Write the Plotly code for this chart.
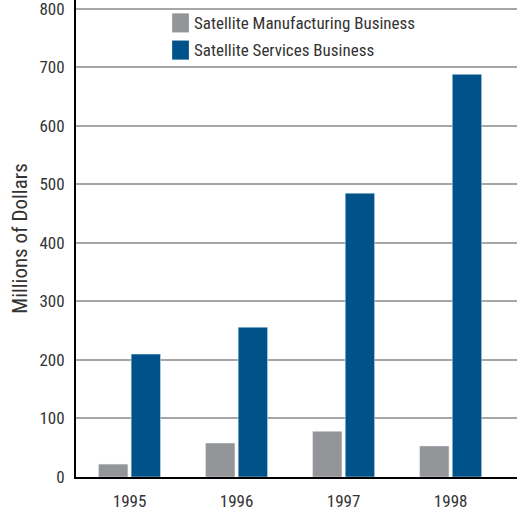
import plotly.graph_objects as go

years = ["1995", "1996", "1997", "1998"]
manufacturing = [22, 58, 78, 53]
services = [210, 256, 485, 688]
series_names = ["Satellite Manufacturing Business", "Satellite Services Business"]
y_ticks = [0, 100, 200, 300, 400, 500, 600, 700, 800]

GRAY = "#939598"
BLUE = "#00538a"
FONT = "Liberation Sans Narrow, Arial Narrow, Roboto Condensed, sans-serif"

fig = go.Figure()
fig.add_trace(go.Bar(x=years, y=manufacturing, name=series_names[0], marker_color=GRAY, showlegend=False))
fig.add_trace(go.Bar(x=years, y=services, name=series_names[1], marker_color=BLUE, showlegend=False))

# custom legend (plot area: top 0, bottom 477 px)
leg = [(series_names[0], GRAY, 0.952), (series_names[1], BLUE, 0.895)]
for name, col, yc in leg:
    fig.add_shape(type="rect", xref="paper", yref="paper",
                  x0=0.218, x1=0.256, y0=yc - 0.02, y1=yc + 0.02,
                  fillcolor=col, line_width=0)
    fig.add_annotation(text=name, xref="paper", yref="paper", x=0.262, y=yc,
                       xanchor="left", yanchor="middle", showarrow=False,
                       font=dict(family=FONT, size=17, color="#333333"))

fig.update_layout(
    width=517, height=515,
    margin=dict(l=76, r=0, t=0, b=38),
    paper_bgcolor="white", plot_bgcolor="white",
    barmode="group", bargap=0.39, bargroupgap=0.1,
    font=dict(family=FONT, size=17, color="#333333"),
    xaxis=dict(type="category", range=[-0.5, 3.62], showline=True, linecolor="black", linewidth=2,
               ticks="", showgrid=False, ticklabelstandoff=8),
    yaxis=dict(range=[0, 815], tickmode="array", tickvals=y_ticks, ticktext=[str(v) for v in y_ticks],
               showline=True, linecolor="black", linewidth=2, ticklabeloverflow="allow",
               ticks="", showgrid=True, gridcolor="#a6a6a6", gridwidth=2, zeroline=False,
               ticklabelstandoff=6,
               title=dict(text="Millions of Dollars", standoff=6, font=dict(family=FONT, size=21))),
)

fig.write_html("out.html")
